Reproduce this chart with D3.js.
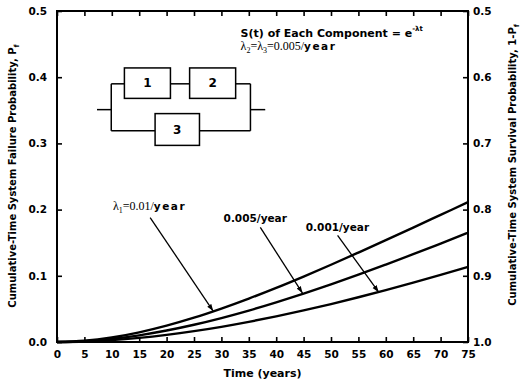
<!DOCTYPE html>
<html><head><meta charset="utf-8">
<script src="https://cdn.jsdelivr.net/npm/d3@7"></script>
<style>body{margin:0;background:#fff}svg{display:block}</style>
</head><body><svg id="c" width="520" height="384"></svg>
<script>
// ---- data ----
const years = [0,5,10,15,20,25,30,35,40,45,50,55,60,65,70,75];
const pfLambda1_0010 = [0,0.0018,0.0068,0.0146,0.0247,0.0367,0.0505,0.0656,0.0818,0.0989,0.1167,0.1351,0.1538,0.1728,0.1920,0.2112];
const pfLambda1_0005 = [0,0.0012,0.0046,0.0101,0.0173,0.0260,0.0361,0.0474,0.0598,0.0730,0.0870,0.1017,0.1170,0.1326,0.1487,0.1650];
const pfLambda1_0001 = [0,0.0007,0.0028,0.0062,0.0108,0.0164,0.0229,0.0304,0.0387,0.0477,0.0573,0.0676,0.0784,0.0896,0.1013,0.1133];
const xTicks = [0,5,10,15,20,25,30,35,40,45,50,55,60,65,70,75];
const yTicksLeft = [0.0,0.1,0.2,0.3,0.4,0.5];
const yTicksRight = [1.0,0.9,0.8,0.7,0.6,0.5];
// annotations in data units (years, Pf)
const labels = [
  {name:"λ1", t:10.2, p:0.199, tipFrom:[17.0,0.188], tipTo:[28.5,0.0467]},
  {name:"0.005", t:30.4, p:0.182, tipFrom:[37.1,0.173], tipTo:[44.8,0.0738]},
  {name:"0.001", t:45.4, p:0.167, tipFrom:[51.2,0.161], tipTo:[58.7,0.0753]}
];

const svg = d3.select("#c");
const W = 520, H = 384;
const m = {l:57, r:52, t:11, b:42};
const x = d3.scaleLinear().domain([0,75]).range([m.l, W-m.r]);
const y = d3.scaleLinear().domain([0,0.5]).range([H-m.b, m.t]);
const yR = d3.scaleLinear().domain([1.0,0.5]).range([H-m.b, m.t]);
const font = "'DejaVu Sans', sans-serif";

function styleAxis(g, pad){
  g.select(".domain").remove();
  g.selectAll(".tick line").attr("stroke","#000").attr("stroke-width",1.6);
  g.selectAll(".tick text").attr("font-family",font).attr("font-size",10.5).attr("font-weight","bold").attr("fill","#000");
}
svg.append("g").attr("transform",`translate(0,${H-m.b})`)
  .call(d3.axisBottom(x).tickValues(xTicks).tickSize(-5).tickPadding(9).tickFormat(d3.format("d")))
  .call(styleAxis);
svg.append("g").attr("transform",`translate(0,${m.t})`)
  .call(d3.axisTop(x).tickValues(xTicks).tickSize(-5).tickFormat(""))
  .call(styleAxis);
svg.append("g").attr("transform",`translate(${m.l},0)`)
  .call(d3.axisLeft(y).tickValues(yTicksLeft).tickSize(-5).tickPadding(10).tickFormat(d3.format(".1f")))
  .call(styleAxis);
svg.append("g").attr("transform",`translate(${W-m.r},0)`)
  .call(d3.axisRight(yR).tickValues(yTicksRight).tickSize(-5).tickPadding(5).tickFormat(d3.format(".1f")))
  .call(styleAxis);

svg.append("rect").attr("x",m.l).attr("y",m.t).attr("width",W-m.l-m.r).attr("height",H-m.t-m.b)
  .attr("fill","none").attr("stroke","#000").attr("stroke-width",2);

// curves
const line = d3.line().x(d=>x(d[0])).y(d=>y(d[1])).curve(d3.curveMonotoneX);
[pfLambda1_0010, pfLambda1_0005, pfLambda1_0001].forEach(s=>{
  svg.append("path").datum(years.map((t,i)=>[t,s[i]]))
    .attr("d",line).attr("fill","none").attr("stroke","#000").attr("stroke-width",2.4);
});

// arrow marker
svg.append("defs").append("marker").attr("id","ah").attr("viewBox","0 0 10 10")
  .attr("refX",10).attr("refY",5).attr("markerWidth",7).attr("markerHeight",7)
  .attr("markerUnits","userSpaceOnUse").attr("orient","auto")
  .append("path").attr("d","M0,1.5 L10,5 L0,8.5 Z").attr("fill","#000");

labels.forEach(L=>{
  svg.append("line").attr("x1",x(L.tipFrom[0])).attr("y1",y(L.tipFrom[1]))
    .attr("x2",x(L.tipTo[0])).attr("y2",y(L.tipTo[1]))
    .attr("stroke","#000").attr("stroke-width",1.3).attr("marker-end","url(#ah)");
  const t = svg.append("text").attr("x",x(L.t)).attr("y",y(L.p)).attr("font-family",font)
    .attr("font-size",10.5).attr("font-weight","bold");
  if(L.name==="λ1"){
    t.append("tspan").attr("font-family","'Liberation Serif', serif").attr("font-weight","normal").attr("font-size",12).text("λ");
    t.append("tspan").attr("font-family","'Liberation Serif', serif").attr("font-weight","normal").attr("font-size",8).attr("dy",3).text("1");
    t.append("tspan").attr("font-family","'Liberation Serif', serif").attr("font-weight","normal").attr("font-size",12).attr("dy",-3).text("=0.01/");
    t.append("tspan").attr("letter-spacing",1.5).text("year");
  } else {
    t.text(L.name+"/year");
  }
});

// formula text
const f1 = svg.append("text").attr("x",x(33.5)).attr("y",y(0.4608)).attr("font-family",font)
  .attr("font-size",11).attr("font-weight","bold");
f1.append("tspan").text("S(t) of Each Component = e");
f1.append("tspan").attr("font-size",7).attr("dy",-6).text("-λt");
const f2 = svg.append("text").attr("x",x(33.5)).attr("y",y(0.4413)).attr("font-family","'Liberation Serif', serif").attr("font-size",12);
f2.append("tspan").text("λ");
f2.append("tspan").attr("font-size",8).attr("dy",3).text("2");
f2.append("tspan").attr("dy",-3).text("=λ");
f2.append("tspan").attr("font-size",8).attr("dy",3).text("3");
f2.append("tspan").attr("dy",-3).text("=0.005/");
f2.append("tspan").attr("font-family",font).attr("font-weight","bold").attr("font-size",10.5).attr("letter-spacing",1.5).text("year");

// reliability block diagram (data units)
const dg = svg.append("g").attr("stroke","#000").attr("stroke-width",1.5).attr("fill","none");
const dline = d3.line().x(d=>x(d[0])).y(d=>y(d[1]));
const wires = [
  [[7.3,0.351],[9.9,0.351]],
  [[9.9,0.390],[9.9,0.319]],
  [[9.9,0.390],[12.3,0.390]],
  [[20.7,0.390],[24.2,0.390]],
  [[32.6,0.390],[35.3,0.390]],
  [[9.9,0.319],[17.9,0.319]],
  [[26.0,0.319],[35.3,0.319]],
  [[35.3,0.390],[35.3,0.319]],
  [[35.3,0.351],[38.0,0.351]]
];
wires.forEach(w=>dg.append("path").attr("d",dline(w)));
const boxes = [
  {id:"1", x0:12.3, x1:20.7, p0:0.414, p1:0.368},
  {id:"2", x0:24.2, x1:32.6, p0:0.414, p1:0.368},
  {id:"3", x0:17.9, x1:26.0, p0:0.345, p1:0.297}
];
boxes.forEach(b=>{
  dg.append("rect").attr("x",x(b.x0)).attr("y",y(b.p0)).attr("width",x(b.x1)-x(b.x0)).attr("height",y(b.p1)-y(b.p0)).attr("fill","#fff");
  svg.append("text").attr("x",(x(b.x0)+x(b.x1))/2).attr("y",(y(b.p0)+y(b.p1))/2).attr("dy","0.36em")
    .attr("text-anchor","middle").attr("font-family",font).attr("font-weight","bold").attr("font-size",12).text(b.id);
});

// axis titles
svg.append("text").attr("x",(x(0)+x(75))/2).attr("y",377).attr("text-anchor","middle")
  .attr("font-family",font).attr("font-weight","bold").attr("font-size",11).text("Time (years)");
const lt = svg.append("text").attr("transform","translate(16,176) rotate(-90)").attr("text-anchor","middle")
  .attr("font-family",font).attr("font-weight","bold").attr("font-size",10);
lt.append("tspan").text("Cumulative-Time System Failure Probability, P");
lt.append("tspan").attr("font-size",7).attr("dy",3).text("f");
const rt = svg.append("text").attr("transform","translate(516,165) rotate(-90)").attr("text-anchor","middle")
  .attr("font-family",font).attr("font-weight","bold").attr("font-size",10);
rt.append("tspan").text("Cumulative-Time System Survival Probability, 1-P");
rt.append("tspan").attr("font-size",7).attr("dy",3).text("f");
</script></body></html>
